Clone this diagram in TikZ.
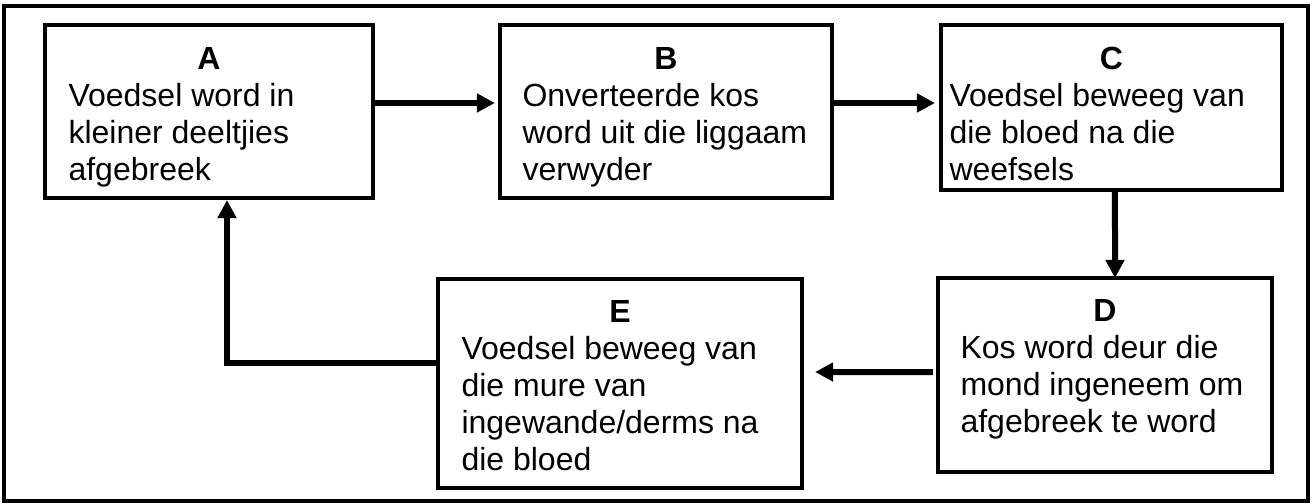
\documentclass[tikz,border=0pt]{standalone}
\usepackage{fontspec}
\setmainfont{Liberation Sans}
\usetikzlibrary{arrows.meta}

\begin{document}
\begin{tikzpicture}[
		x=0.375pt, y=-0.375pt,
		box/.style={draw, line width=1.5pt, inner sep=0pt, outer sep=0pt},
		title/.style={font=\fontsize{12pt}{13.9pt}\selectfont\bfseries},
		body/.style={anchor=north west, inner sep=0pt, align=left, font=\fontsize{12pt}{13.9pt}\selectfont},
		arr/.style={line width=2.25pt, -{Triangle[length=6.8pt,width=6.8pt]}},
	]
	\useasboundingbox (0,0) rectangle (1312,503);
	\draw[line width=1.5pt] (4,6) rectangle (1308,501);

	\node[box, minimum width=123pt, minimum height=64.875pt] (a) at (209,111.5) {};
	\node[box, minimum width=124.5pt, minimum height=64.875pt] (b) at (666,111.5) {};
	\node[box, minimum width=127.875pt, minimum height=61.875pt] (c) at (1111.5,107.5) {};
	\node[box, minimum width=125.25pt, minimum height=72.75pt] (d) at (1105,375) {};
	\node[box, minimum width=136.5pt, minimum height=78.375pt] (e) at (620,383.5) {};

	\node[title] (aT) at (209,58) {A};
	\node[title] (bT) at (666,58) {B};
	\node[title] (cT) at (1111.5,58) {C};
	\node[title] (dT) at (1105,310) {D};
	\node[title] (eT) at (620,311) {E};

	\node[body] (aB) at (68,83) {Voedsel word in\\kleiner deeltjies\\afgebreek};
	\node[body] (bB) at (522,83) {Onverteerde kos\\word uit die liggaam\\verwyder};
	\node[body] (cB) at (949,83) {Voedsel beweeg van\\die bloed na die\\weefsels};
	\node[body] (dB) at (960,335) {Kos word deur die\\mond ingeneem om\\afgebreek te word};
	\node[body] (eB) at (461,336) {Voedsel beweeg van\\die mure van\\ingewande/derms na\\die bloed};

	\draw[arr, shorten >=1.9pt] ([yshift=3.2pt]a.east) -- ([yshift=3.2pt]b.west);
	\draw[arr, shorten >=2.25pt] ([yshift=3.2pt]b.east) -- ([yshift=1.7pt]c.west);
	\draw[arr] ([xshift=1.3pt]c.south) -- ([xshift=3.75pt]d.north);
	\draw[arr, shorten <=1.9pt, shorten >=4.9pt] ([yshift=1.1pt]d.west) -- ([yshift=4.3pt]e.east);
	\draw[arr, shorten >=0.75pt] ([yshift=7.7pt]e.west) -| ([xshift=6.75pt]a.south);
\end{tikzpicture}
\end{document}
